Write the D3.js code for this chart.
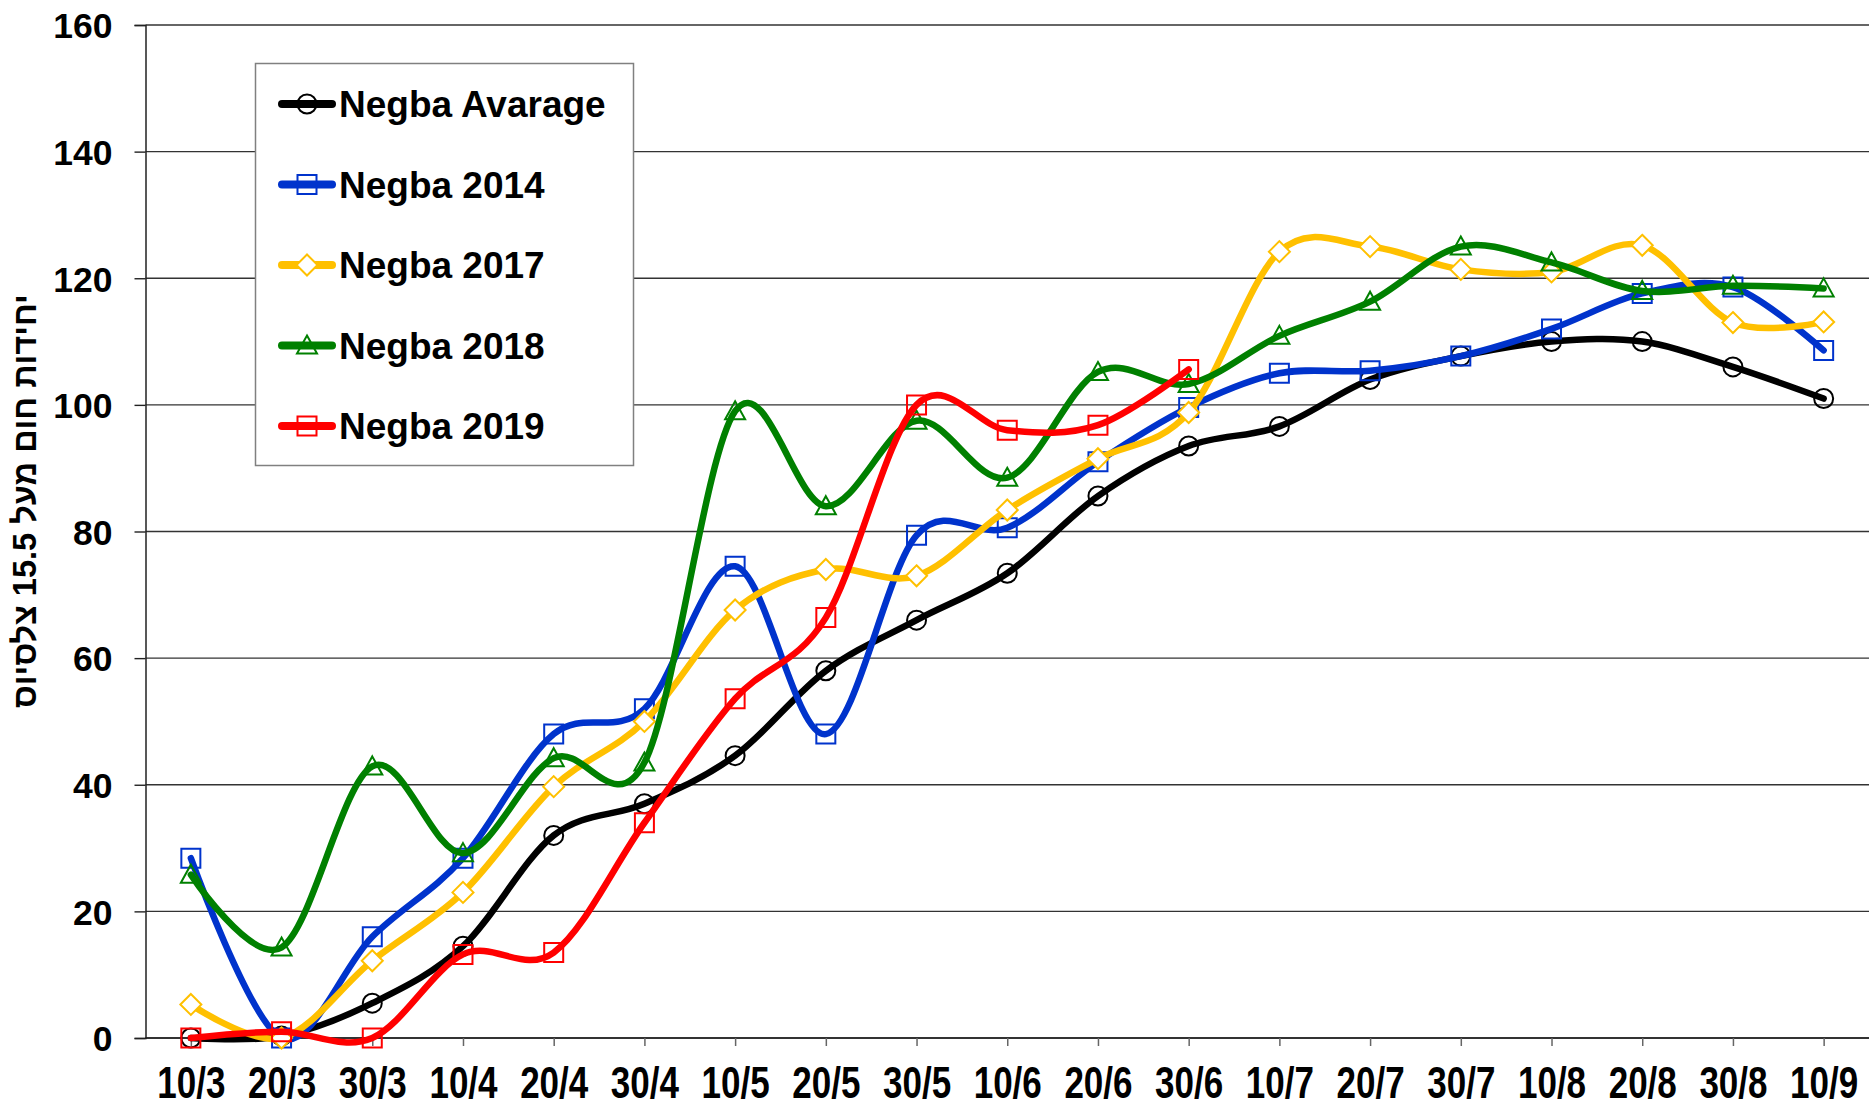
<!DOCTYPE html>
<html>
<head>
<meta charset="utf-8">
<script src="https://cdn.jsdelivr.net/npm/d3@7"></script>
<style>
  body { margin: 0; background: #fff; }
  text { font-family: "Liberation Sans", Arial, sans-serif; font-weight: bold; fill: #000; }
</style>
</head>
<body>
<div id="chart"></div>
<script>
(function() {
  var width = 1869, height = 1101;
  var margin = { top: 25, left: 145.5, right: 0, bottom: 63 };

  // data
  var dates = ["10/3", "20/3", "30/3", "10/4", "20/4", "30/4", "10/5", "20/5", "30/5", "10/6",
               "20/6", "30/6", "10/7", "20/7", "30/7", "10/8", "20/8", "30/8", "10/9"];
  var yTicks = [0, 20, 40, 60, 80, 100, 120, 140, 160];

  var negbaAvarage = [0, 0.3, 5.5, 14.5, 32, 37, 44.6, 58, 66, 73.4, 85.6, 93.5, 96.6, 104, 107.7, 110, 110, 106, 101];
  var negba2014 = [28.4, 0, 16, 28.4, 48, 52, 74.5, 48, 79.4, 80.6, 91, 99.6, 105, 105.4, 107.7, 112, 117.6, 118.6, 108.6];
  var negba2017 = [5.3, 0, 12.2, 23, 39.7, 50, 67.6, 74, 73, 83.4, 91.5, 98.8, 124.2, 125, 121.4, 121, 125.2, 113, 113.1];
  var negba2018 = [25.8, 14.3, 42.9, 29.2, 44.2, 43.5, 99, 84, 97.5, 88.5, 105.2, 103.3, 110.9, 116.3, 125, 122.5, 118, 118.8, 118.4];
  var negba2019 = [0, 1, 0, 13.2, 13.5, 34, 53.6, 66.4, 100, 96, 96.8, 105.6, null, null, null, null, null, null, null];

  var seriesNames = ["Negba Avarage", "Negba 2014", "Negba 2017", "Negba 2018", "Negba 2019"];
  var seriesValues = [negbaAvarage, negba2014, negba2017, negba2018, negba2019];
  var colors = ["#000000", "#0033cc", "#ffc000", "#008000", "#ff0000"];
  var markers = ["circle", "square", "diamond", "triangle", "square"];

  var svg = d3.select("#chart")
    .append("svg")
    .attr("width", width)
    .attr("height", height);

  var xPositionScale = d3.scalePoint()
    .domain(dates)
    .range([margin.left, width - margin.right])
    .padding(0.5);

  var yPositionScale = d3.scaleLinear()
    .domain([0, 160])
    .range([height - margin.bottom, margin.top]);

  // gridlines
  svg.selectAll(".grid")
    .data(yTicks)
    .enter().append("line")
      .attr("class", "grid")
      .attr("x1", margin.left)
      .attr("x2", width)
      .attr("y1", function(d) { return yPositionScale(d) })
      .attr("y2", function(d) { return yPositionScale(d) })
      .attr("stroke", "#333")
      .attr("stroke-width", 1.4);

  // y axis
  var yAxis = d3.axisLeft(yPositionScale)
    .tickValues(yTicks)
    .tickSize(11)
    .tickPadding(22);
  var yg = svg.append("g")
    .attr("class", "axis y-axis")
    .attr("transform", "translate(" + margin.left + ",0)")
    .call(yAxis);
  yg.select(".domain").attr("stroke", "#222").attr("stroke-width", 1.5);
  yg.selectAll(".tick line").attr("stroke", "#222").attr("stroke-width", 1.4);
  yg.selectAll(".tick text")
    .attr("font-size", 35.5)
    .attr("dy", "0.36em")
    .attr("fill", "#000");

  // x axis
  var xAxis = d3.axisBottom(xPositionScale)
    .tickSize(8)
    .tickSizeOuter(0);
  var xg = svg.append("g")
    .attr("class", "axis x-axis")
    .attr("transform", "translate(0," + yPositionScale(0) + ")")
    .call(xAxis);
  xg.select(".domain").attr("stroke", "#222").attr("stroke-width", 1.5)
    .attr("d", "M" + margin.left + ",0H" + width);
  xg.selectAll(".tick line").attr("stroke", "#666").attr("stroke-width", 1.5);
  // the original labels are tall and narrow, and run down to the bottom edge
  xg.selectAll(".tick text")
    .attr("font-size", 35)
    .attr("y", 60 / 1.25)
    .attr("dy", 0)
    .attr("transform", "scale(1,1.25)")
    .attr("fill", "#000");

  // y axis title
  svg.append("text")
    .attr("transform", "translate(25,501) rotate(-90)")
    .attr("text-anchor", "middle")
    .attr("dominant-baseline", "central")
    .attr("font-size", 32.5)
    .text("יחידות חום מעל 15.5 צלסיוס");

  var line = d3.line()
    .defined(function(d) { return d != null })
    .x(function(d, i) { return xPositionScale(dates[i]) })
    .y(function(d) { return yPositionScale(d) })
    .curve(d3.curveCardinal.tension(0));

  function markerPath(type) {
    if (type == "circle") return d3.symbol().type(d3.symbolCircle).size(Math.PI * 9.5 * 9.5)();
    if (type == "square") return "M-9.5,-9.5H9.5V9.5H-9.5Z";
    if (type == "diamond") return "M0,-10.5L10.5,0L0,10.5L-10.5,0Z";
    return "M0,-10L10,8H-10Z";
  }

  seriesValues.forEach(function(values, s) {
    svg.append("path")
      .datum(values)
      .attr("d", line)
      .attr("fill", "none")
      .attr("stroke", colors[s])
      .attr("stroke-width", 6.5)
      .attr("stroke-linecap", "round")
      .attr("stroke-linejoin", "round");

    svg.selectAll(".marker" + s)
      .data(values.map(function(v, i) { return { v: v, i: i } }).filter(function(d) { return d.v != null }))
      .enter().append("path")
        .attr("class", "marker" + s)
        .attr("d", markerPath(markers[s]))
        .attr("transform", function(d) {
          return "translate(" + xPositionScale(dates[d.i]) + "," + yPositionScale(d.v) + ")";
        })
        .attr("fill", markers[s] == "diamond" ? "#fff" : "none")
        .attr("stroke", colors[s])
        .attr("stroke-width", 2);
  });

  // legend
  var legend = svg.append("g").attr("class", "legend");
  legend.append("rect")
    .attr("x", 255.5)
    .attr("y", 63.5)
    .attr("width", 378)
    .attr("height", 402)
    .attr("fill", "#fff")
    .attr("stroke", "#808080")
    .attr("stroke-width", 1.5);

  seriesNames.forEach(function(name, s) {
    var ly = 104 + s * 80.5;
    legend.append("line")
      .attr("x1", 282)
      .attr("x2", 332)
      .attr("y1", ly)
      .attr("y2", ly)
      .attr("stroke", colors[s])
      .attr("stroke-width", 8)
      .attr("stroke-linecap", "round");
    legend.append("path")
      .attr("d", markerPath(markers[s]))
      .attr("transform", "translate(307," + ly + ")")
      .attr("fill", markers[s] == "diamond" ? "#fff" : "none")
      .attr("stroke", colors[s])
      .attr("stroke-width", 2);
    legend.append("text")
      .attr("x", 339)
      .attr("y", ly + 13)
      .attr("font-size", 37)
      .text(name);
  });
})();
</script>
</body>
</html>
